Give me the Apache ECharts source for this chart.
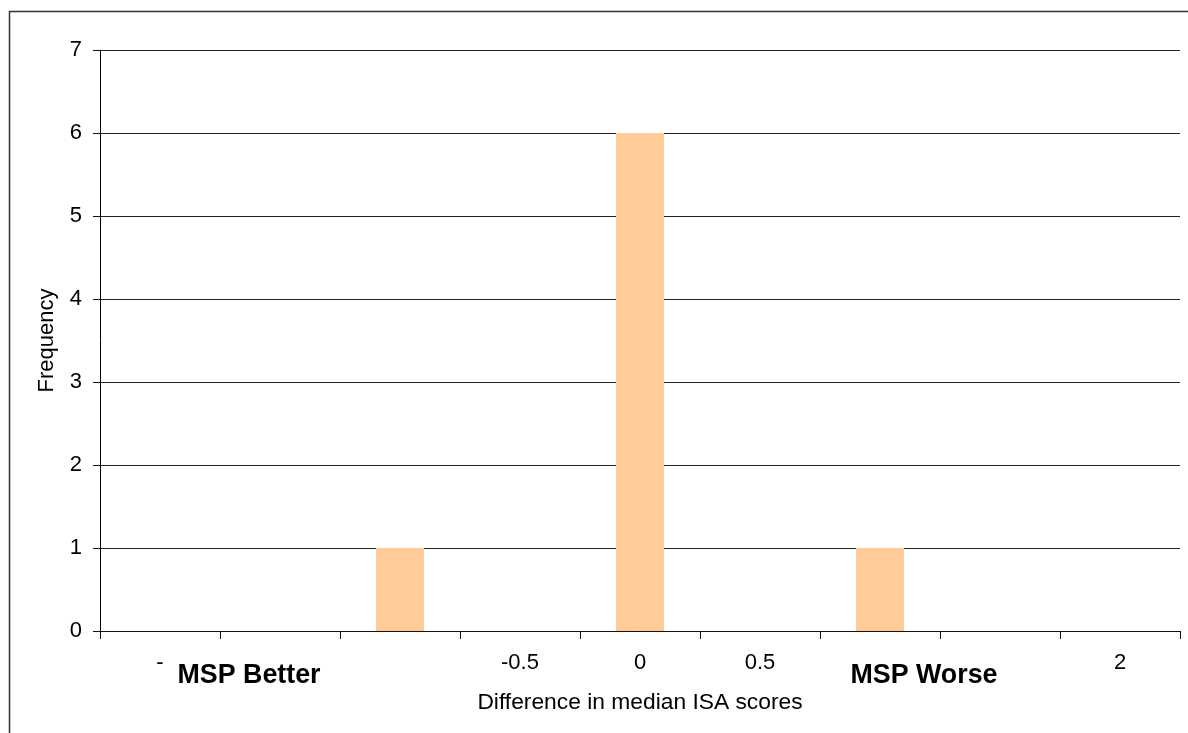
<!DOCTYPE html>
<html><head><meta charset="utf-8">
<script src="https://cdn.jsdelivr.net/npm/echarts@6/dist/echarts.min.js"></script>
<style>html,body{margin:0;padding:0;background:#fff}#c{width:1188px;height:733px}</style>
</head><body><div id="c"></div>
<script>
var categories = ["-", "", "", "-0.5", "0", "0.5", "", "", "2"];
var frequency = [0, 0, 1, 0, 6, 0, 1, 0, 0];
var yTicks = [0, 1, 2, 3, 4, 5, 6, 7];
var annotations = ["MSP Better", "MSP Worse"];

var chart = echarts.init(document.getElementById('c'));
var font = 'Liberation Sans, Arial, sans-serif';
chart.setOption({
  animation: false,
  backgroundColor: '#fff',
  grid: {left: 100, right: 8, top: 50, bottom: 102},
  xAxis: {
    type: 'category', data: categories,
    axisLine: {lineStyle: {color: '#111', width: 1}},
    axisTick: {show: true, length: 8, alignWithLabel: false, lineStyle: {color: '#111'}},
    axisLabel: {color: '#000', fontSize: 22, fontFamily: font, margin: 21, interval: 0},
    name: 'Difference in median ISA scores', nameLocation: 'middle', nameGap: 60,
    nameTextStyle: {color: '#000', fontSize: 22.8, fontFamily: font}
  },
  yAxis: {
    type: 'value', min: 0, max: 7, interval: 1,
    axisLine: {show: true, lineStyle: {color: '#000'}},
    axisTick: {show: true, length: 7, lineStyle: {color: '#111'}},
    splitLine: {lineStyle: {color: '#222', width: 1}},
    axisLabel: {color: '#000', fontSize: 22, fontFamily: font, margin: 18,
      formatter: function (v) { return yTicks.indexOf(v) >= 0 ? String(v) : ''; }},
    name: 'Frequency', nameLocation: 'middle', nameGap: 42, nameRotate: 90,
    nameTextStyle: {color: '#000', fontSize: 22, fontFamily: font}
  },
  series: [{
    type: 'bar', data: frequency, barWidth: '40%', z: 3,
    itemStyle: {color: '#FFCC99'}
  }],
  graphic: [
    {type: 'rect', shape: {x: 9.5, y: 11.5, width: 1200, height: 800}, style: {fill: 'none', stroke: '#333', lineWidth: 1.5}, silent: true, z: -1},
    {type: 'text', x: 249, y: 676, style: {text: annotations[0], font: 'bold 26.8px Liberation Sans, Arial, sans-serif', fill: '#000', textAlign: 'center', textVerticalAlign: 'middle'}},
    {type: 'text', x: 924, y: 676, style: {text: annotations[1], font: 'bold 26.8px Liberation Sans, Arial, sans-serif', fill: '#000', textAlign: 'center', textVerticalAlign: 'middle'}}
  ]
});
</script></body></html>
